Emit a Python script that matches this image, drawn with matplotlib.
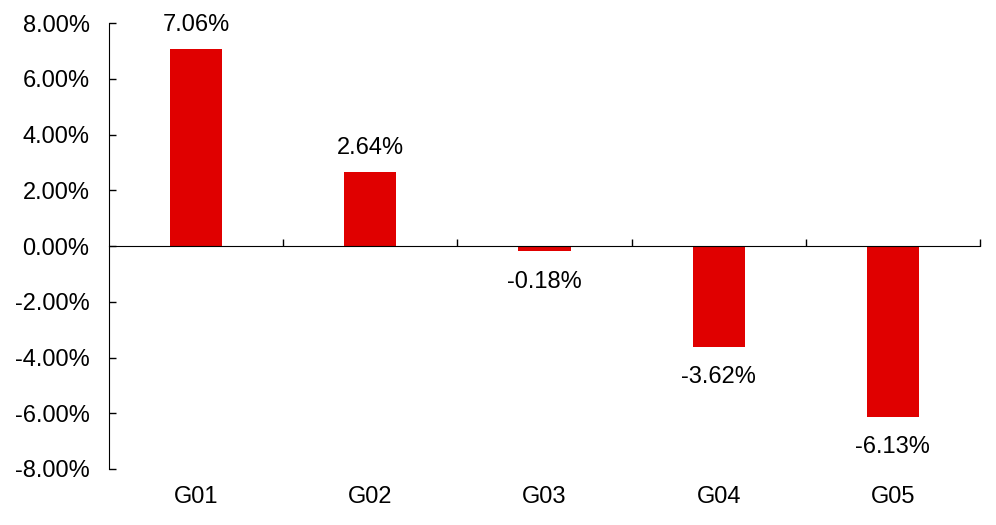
import numpy as np
import matplotlib.pyplot as plt
from matplotlib.ticker import FuncFormatter

plt.rcParams['font.family'] = ['Liberation Sans', 'DejaVu Sans']

groups = ['G01', 'G02', 'G03', 'G04', 'G05']
returns = [7.06, 2.64, -0.18, -3.62, -6.13]  # percent

FS = 17

fig = plt.figure(figsize=(9.96, 5.25), dpi=100)
ax = fig.add_axes([0.1094, 0.1067, 0.8745, 0.8493])

x = np.arange(len(groups))
ax.bar(x, returns, width=0.3, color='#E00000')

# value labels: above positive bars, below negative ones
for xi, v in zip(x, returns):
    if v >= 0:
        ax.annotate(f'{v:.2f}%', (xi, v), xytext=(0, 13), textcoords='offset points',
                    ha='center', va='baseline', fontsize=FS)
    else:
        ax.annotate(f'{v:.2f}%', (xi, v), xytext=(0, -14), textcoords='offset points',
                    ha='center', va='top', fontsize=FS)

ax.set_xlim(-0.5, len(groups) - 0.5)
ax.set_ylim(-8, 8)
ax.set_yticks(np.arange(-8, 8.1, 2))
ax.yaxis.set_major_formatter(FuncFormatter(lambda v, p: f'{v:.2f}%'))

# x axis drawn at zero, category ticks at boundaries
for s in ['top', 'right']:
    ax.spines[s].set_visible(False)
ax.spines['bottom'].set_position(('data', 0))

ax.set_xticks(np.arange(0.5, len(groups), 1.0))
ax.set_xticklabels([])
ax.tick_params(axis='x', direction='in', length=5, width=1)
ax.tick_params(axis='y', direction='in', length=5, width=1, labelsize=FS, pad=14)

# category names sit below the plot area, not at the zero line
for xi, g in zip(x, groups):
    ax.annotate(g, (xi, -8), xytext=(0, -12), textcoords='offset points',
                ha='center', va='top', fontsize=FS, annotation_clip=False)

fig.savefig('out.png', dpi=100)
